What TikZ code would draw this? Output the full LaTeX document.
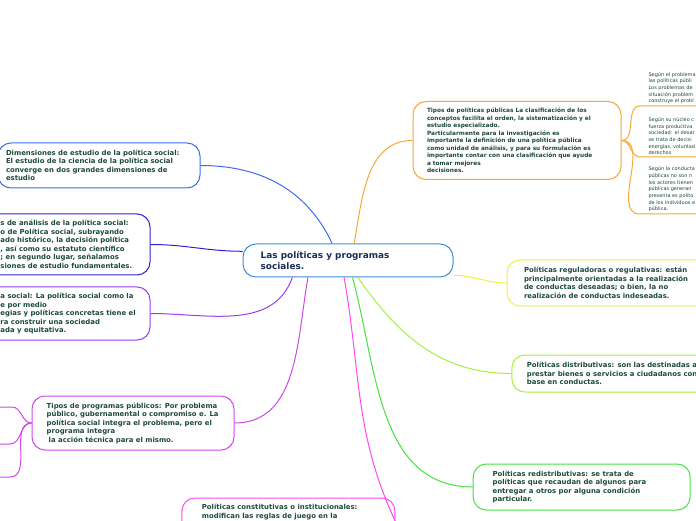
\documentclass[tikz,border=0pt]{standalone}
\usepackage{fontspec}
\setmainfont{DejaVu Sans}
\usetikzlibrary{positioning}
\definecolor{txtgreen}{HTML}{1E4A3C}
\definecolor{txtnavy}{HTML}{1C2C5A}
\definecolor{mainc}{HTML}{3C8DD6}
\definecolor{dimc}{HTML}{3E6BF0}
\definecolor{anac}{HTML}{3322CC}
\definecolor{socc}{HTML}{9A3CF0}
\definecolor{progc}{HTML}{D048E8}
\definecolor{consc}{HTML}{FF48F0}
\definecolor{tiposc}{HTML}{F7A733}
\definecolor{regc}{HTML}{F0F040}
\definecolor{distc}{HTML}{A8EE40}
\definecolor{redisc}{HTML}{44E040}
\begin{document}
\begin{tikzpicture}[x=1pt, y=1pt, line width=1pt,
  topic/.style={draw=#1, fill=white, rounded corners=13pt, inner sep=0pt},
  txt/.style={inner sep=0pt, align=left, text=txtgreen, font=\bfseries\fontsize{6.9}{8.5}\selectfont},
  leaf/.style={inner sep=0pt, align=left, text=txtgreen, font=\fontsize{5}{6.7}\selectfont}]
  \useasboundingbox (0,0) rectangle (696,520);

  % central topic
  \node[topic=mainc, minimum width=210pt, minimum height=33pt] (main) at (348,259.5) {};
  \node[txt, right=17.7pt of main.west, text=txtnavy, font=\bfseries\fontsize{8.9}{11}\selectfont] (maintxt) {Las políticas y programas\\sociales.};

  % left branches
  \node[topic=dimc, minimum width=202pt, minimum height=45pt] (dim) at (99,354.5) {};
  \node[txt, right=8pt of dim.west] (dimtxt) {Dimensiones de estudio de la política social:\\El estudio de la ciencia de la política social\\converge en dos grandes dimensiones de\\estudio};
  \node[topic=anac, minimum width=210pt, minimum height=61pt] (ana) at (45,275.5) {};
  \node[txt, right=60.5pt of ana.west] (anatxt) {s de análisis de la política social:\\o de Política social, subrayando\\ado histórico, la decisión política\\, así como su estatuto científico\\; en segundo lugar, señalamos\\siones de estudio fundamentales.};
  \node[topic=socc, minimum width=210pt, minimum height=53pt] (soc) at (45,206.5) {};
  \node[txt, right=60.5pt of soc.west] (soctxt) {a social: La política social como la\\e por medio\\egias y políticas concretas tiene el\\ra construir una sociedad\\ada y equitativa.};
  \node[topic=progc, minimum width=202pt, minimum height=54pt] (prog) at (133,97) {};
  \node[txt, right=14.7pt of prog.west] (progtxt) {Tipos de programas públicos: Por problema\\público, gubernamental o compromiso e. La\\política social integra el problema, pero el\\programa integra\\\hspace*{2pt}la acción técnica para el mismo.};
  \node[topic=consc, minimum width=213pt, minimum height=47pt] (cons) at (288.4,-1.5) {};
  \node[txt, below right=6pt and 20pt of cons.north west] (constxt) {Políticas constitutivas o institucionales:\\modifican las reglas de juego en la};

  % right branches
  \node[topic=tiposc, minimum width=208pt, minimum height=78pt] (tipos) at (517,379.5) {};
  \node[txt, right=14pt of tipos.west, font=\bfseries\fontsize{5.8}{7.5}\selectfont] (tipostxt) {Tipos de políticas públicas La clasificación de los\\conceptos facilita el orden, la sistematización y el\\estudio especializado.\\Particularmente para la investigación es\\importante la definición de una política pública\\como unidad de análisis, y para su formulación es\\importante contar con una clasificación que ayude\\a tomar mejores\\decisiones.};
  \node[topic=regc, minimum width=233pt, minimum height=46pt] (reg) at (623.5,237) {};
  \node[txt, right=17pt of reg.west] (regtxt) {Políticas reguladoras o regulativas: están\\principalmente orientadas a la realización\\de conductas deseadas; o bien, la no\\realización de conductas indeseadas.};
  \node[topic=distc, minimum width=228pt, minimum height=37pt] (dist) at (625.9,146.5) {};
  \node[txt, right=15pt of dist.west] (disttxt) {Políticas distributivas: son las destinadas a\\prestar bienes o servicios a ciudadanos con\\base en conductas.};
  \node[topic=redisc, minimum width=217pt, minimum height=46pt] (redis) at (581.7,33) {};
  \node[txt, right=19.4pt of redis.west] (redistxt) {Políticas redistributivas: se trata de\\políticas que recaudan de algunos para\\entregar a otros por alguna condición\\particular.};

  % leaves of the orange branch
  \coordinate (ua) at (640,414);
  \coordinate (ub) at (640,363);
  \coordinate (uc) at (640,306);
  \node[leaf, above right=1.5pt and 8pt of ua] (leafa) {Según el problema\\las políticas públi\\Los problemas de\\situación problem\\construye el probl};
  \node[leaf, above right=1.5pt and 8pt of ub] (leafb) {Según su núcleo c\\fuerza productiva\\sociedad: el desar\\se trata de decisi\\energías, voluntad\\derechos};
  \node[leaf, above right=1.5pt and 8pt of uc] (leafc) {Según la conducta\\públicas no son n\\los actores tienen\\públicas generan\\presenta es polito\\de los individuos e\\pública.};

  % leaves of the programas branch
  \coordinate (pa) at (12,113);
  \coordinate (pb) at (10,76);
  \coordinate (pc) at (10,43);

  % connectors
  \draw[dimc] (dim.east) to[out=0,in=115] (main.133);
  \draw[anac] (ana.east) to[out=0,in=180] (main.175);
  \draw[socc] (soc.east) to[out=0,in=-110] (main.197);
  \draw[progc] (prog.east) to[out=0,in=-100] (main.203);
  \draw[consc] (main.257) to[out=-80,in=115] (cons.east);
  \draw[redisc] (main.285) to[out=-75,in=180] (redis.west);
  \draw[distc] (main.300) to[out=-55,in=180] (dist.west);
  \draw[regc] (main.-8) to[out=0,in=180] (reg.west);
  \draw[tiposc] (main.70) to[out=80,in=180] (tipos.west);
  \foreach \u in {ua,ub,uc}
    \draw[tiposc] (tipos.east) to[out=0,in=180] (\u) -- ++(60,0);
  \foreach \p in {pa,pb,pc}
    \draw[progc] (prog.west) to[out=180,in=0] (\p) -- ++(-12,0);
\end{tikzpicture}
\end{document}
